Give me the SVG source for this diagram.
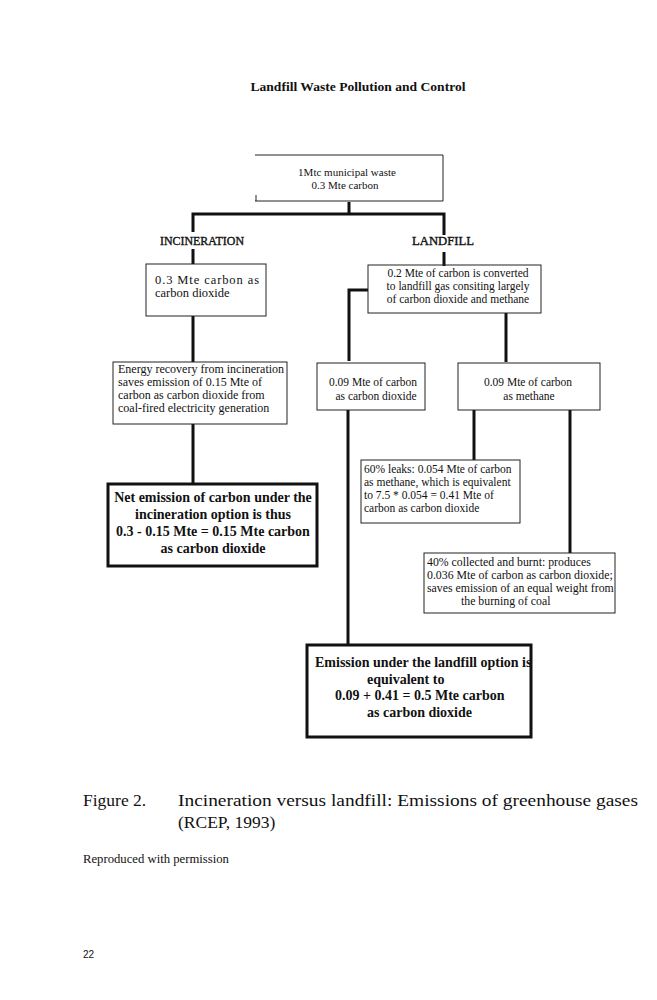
<svg xmlns="http://www.w3.org/2000/svg" width="657" height="1000" viewBox="0 0 657 1000">
<style>
.bg{fill:#ffffff}
.box{fill:none;stroke:#222;stroke-width:1}
.bbox{fill:none;stroke:#111;stroke-width:3}
.conn{fill:none;stroke:#111;stroke-width:3}
.t{font-family:"Liberation Serif","Times New Roman",serif;font-size:12px;fill:#111}
.ti{font-family:"Liberation Serif","Times New Roman",serif;font-size:11.8px;fill:#111}
.ta{font-family:"Liberation Serif","Times New Roman",serif;font-size:12.5px;fill:#111}
.ts{font-family:"Liberation Serif","Times New Roman",serif;font-size:11.5px;fill:#111}
.tt{font-family:"Liberation Serif","Times New Roman",serif;font-size:11px;fill:#111}
.tb{font-family:"Liberation Serif","Times New Roman",serif;font-size:14px;font-weight:bold;fill:#111}
.lab{font-family:"Liberation Serif","Times New Roman",serif;font-size:11.5px;fill:#111;stroke:#111;stroke-width:0.35}
.title{font-family:"Liberation Serif","Times New Roman",serif;font-size:12px;font-weight:bold;fill:#111}
.cap{font-family:"Liberation Serif","Times New Roman",serif;font-size:17.5px;fill:#111}
.rep{font-family:"Liberation Serif","Times New Roman",serif;font-size:12.7px;fill:#111}
.pg{font-family:"Liberation Sans",Arial,sans-serif;font-size:10px;fill:#111}
</style>
<defs>
<clipPath id="clipG"><rect x="307" y="645" width="223" height="92"/></clipPath>
</defs>
<rect class="bg" x="0" y="0" width="657" height="1000"/>
<text class="title" x="358" y="91" text-anchor="middle" textLength="215" lengthAdjust="spacingAndGlyphs">Landfill Waste Pollution and Control</text>

<g id="connectors">
<path class="conn" d="M349 202 V214 M193 214 H444 M193 212.5 V232 M444 212.5 V235"/>
<path class="conn" d="M193 249 V264 M444 252 V266"/>
<path class="conn" d="M193 316 V362 M193 424 V484"/>
<path class="conn" d="M368 290 H349 V361"/>
<path class="conn" d="M506 313 V362"/>
<path class="conn" d="M348 410 V645"/>
<path class="conn" d="M474 410 V460"/>
<path class="conn" d="M570 410 V553"/>
</g>

<g id="n-top">
<path class="box" d="M255 155 H443 V201 H255 M256 195 V201"/>
<text class="tt" x="347" y="176" text-anchor="middle">1Mtc  municipal waste</text>
<text class="tt" x="345" y="189" text-anchor="middle">0.3 Mte carbon</text>
</g>

<g id="n-incineration-label">
<text class="lab" x="202" y="245" text-anchor="middle" textLength="84" lengthAdjust="spacingAndGlyphs">INCINERATION</text>
</g>
<g id="n-landfill-label">
<text class="lab" x="443" y="245" text-anchor="middle" textLength="62" lengthAdjust="spacingAndGlyphs">LANDFILL</text>
</g>

<g id="n-inc1">
<rect class="box" x="146" y="264" width="120" height="52"/>
<text class="ta" x="155" y="284" textLength="104" lengthAdjust="spacing">0.3 Mte carbon as</text>
<text class="ta" x="155" y="297">carbon dioxide</text>
</g>

<g id="n-inc2">
<rect class="box" x="113" y="362" width="174" height="62"/>
<text class="t" x="118" y="373">Energy recovery from incineration</text>
<text class="t" x="118" y="386">saves emission of 0.15 Mte of</text>
<text class="t" x="118" y="399">carbon as carbon dioxide from</text>
<text class="t" x="118" y="412">coal-fired electricity generation</text>
</g>

<g id="n-inc3">
<rect class="bbox" x="108" y="484" width="209" height="82"/>
<text class="tb" x="213" y="502" text-anchor="middle">Net emission of carbon under the</text>
<text class="tb" x="213" y="519" text-anchor="middle">incineration option is thus</text>
<text class="tb" x="213" y="536" text-anchor="middle">0.3 - 0.15 Mte = 0.15 Mte carbon</text>
<text class="tb" x="213" y="553" text-anchor="middle">as carbon dioxide</text>
</g>

<g id="n-land1">
<rect class="box" x="368" y="265" width="173" height="48"/>
<text class="ts" x="458" y="277" text-anchor="middle">0.2 Mte of carbon is converted</text>
<text class="ts" x="458" y="290" text-anchor="middle">to landfill gas consiting largely</text>
<text class="ts" x="458" y="303" text-anchor="middle">of carbon dioxide and methane</text>
</g>

<g id="n-co2">
<rect class="box" x="317" y="363" width="108" height="47"/>
<text class="ts" x="373" y="386" text-anchor="middle">0.09 Mte of carbon</text>
<text class="ts" x="376" y="400" text-anchor="middle">as carbon dioxide</text>
</g>

<g id="n-ch4">
<rect class="box" x="458" y="363" width="142" height="47"/>
<text class="ts" x="528" y="386" text-anchor="middle">0.09 Mte of carbon</text>
<text class="ts" x="529" y="400" text-anchor="middle">as methane</text>
</g>

<g id="n-leaks">
<rect class="box" x="361" y="460" width="159" height="63"/>
<text class="ts" x="364" y="473">60% leaks: 0.054 Mte of carbon</text>
<text class="ts" x="364" y="486">as methane, which is equivalent</text>
<text class="ts" x="364" y="499">to 7.5 * 0.054 = 0.41 Mte of</text>
<text class="ts" x="364" y="512">carbon as carbon dioxide</text>
</g>

<g id="n-burnt">
<rect class="box" x="424" y="553" width="191" height="60"/>
<text class="ti" x="427" y="566">40% collected and burnt: produces</text>
<text class="ti" x="427" y="579">0.036 Mte of carbon as carbon dioxide;</text>
<text class="ti" x="427" y="592">saves emission of an equal weight from</text>
<text class="ti" x="461" y="605">the burning of coal</text>
</g>

<g id="n-landfinal">
<g clip-path="url(#clipG)">
<text class="tb" x="315" y="667">Emission under the landfill option is</text>
</g>
<text class="tb" x="367" y="684">equivalent to</text>
<text class="tb" x="335" y="700">0.09 + 0.41 = 0.5 Mte carbon</text>
<text class="tb" x="367" y="717">as carbon dioxide</text>
<rect class="bbox" x="307" y="645" width="224" height="92"/>
</g>

<text class="cap" x="83" y="806">Figure 2.</text>
<text class="cap" x="178" y="806" textLength="460" lengthAdjust="spacingAndGlyphs">Incineration versus landfill: Emissions of greenhouse gases</text>
<text class="cap" x="178" y="828">(RCEP, 1993)</text>
<text class="rep" x="83" y="863">Reproduced with permission</text>
<text class="pg" x="83" y="958">22</text>
</svg>
